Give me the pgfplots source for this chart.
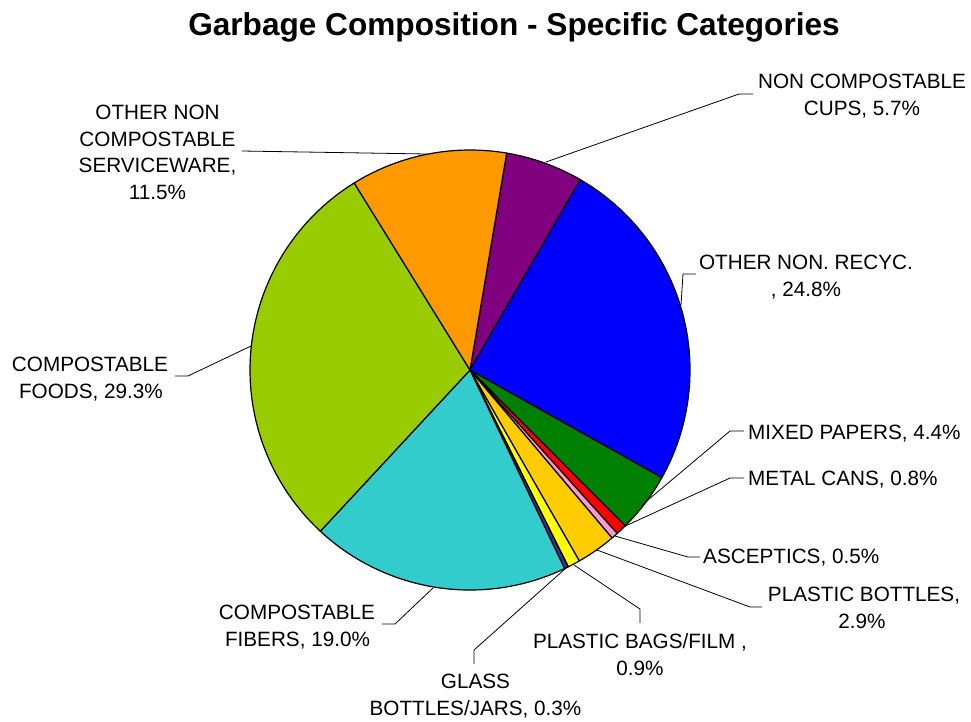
\documentclass[border=0pt]{standalone}
\usepackage{pgfplots}
\usepackage{pgfplotstable}
\pgfplotsset{compat=1.18}
\usepackage{fontspec}
\setmainfont{Liberation Sans}

% slice colours, in drawing order (clockwise from the top)
\definecolor{slice0}{HTML}{800080}
\definecolor{slice1}{HTML}{0000FF}
\definecolor{slice2}{HTML}{008000}
\definecolor{slice3}{HTML}{FF0000}
\definecolor{slice4}{HTML}{FF99CC}
\definecolor{slice5}{HTML}{FFCC00}
\definecolor{slice6}{HTML}{FFFF00}
\definecolor{slice7}{HTML}{333399}
\definecolor{slice8}{HTML}{33CCCC}
\definecolor{slice9}{HTML}{99CC00}
\definecolor{slice10}{HTML}{FF9900}

% share of each category, percent
\pgfplotstableread{
category value
NonCompostableCups 5.7
OtherNonRecyc 24.8
MixedPapers 4.4
MetalCans 0.8
Asceptics 0.5
PlasticBottles 2.9
PlasticBagsFilm 0.9
GlassBottlesJars 0.3
CompostableFibers 19.0
CompostableFoods 29.3
OtherNonCompostableServiceware 11.5
}\garbage

\newcommand\lbl{\fontsize{20.7}{26.7}\selectfont}

\begin{document}
\begin{tikzpicture}
% total of all shares, used to normalise the angles
\def\total{0}
\pgfplotsforeachungrouped \i in {0,...,10}{%
  \pgfplotstablegetelem{\i}{value}\of\garbage
  \pgfmathsetmacro\total{\total+\pgfplotsretval}%
  \xdef\total{\total}%
}
\begin{axis}[
  width=971pt, height=719pt, scale only axis,
  xmin=0, xmax=971, ymin=0, ymax=719,
  y dir=reverse,
  hide axis, clip=false,
]
\path (rel axis cs:0,0) rectangle (rel axis cs:1,1);

% pie slices, centre (470,370), radius 220
\xdef\angA{-80.4}
\pgfplotsforeachungrouped \i in {0,...,10}{%
  \pgfplotstablegetelem{\i}{value}\of\garbage
  \pgfmathsetmacro\angB{\angA+\pgfplotsretval*360/\total}%
  \edef\tmp{\noexpand\addplot[draw=black, line width=1.2pt, line join=round,
      fill=slice\i, domain=\angA:\angB, samples=90]
      ({470+220*cos(x)},{370+220*sin(x)}) -- (axis cs:470,370) -- cycle;}%
  \tmp
  \xdef\angA{\angB}%
}

% leader lines
\addplot[black, line width=0.8pt] coordinates {(546,162) (739,94) (753,94)};
\addplot[black, line width=0.8pt] coordinates {(242,151) (427,154)};
\addplot[black, line width=0.8pt] coordinates {(696,274) (683,274) (681,305)};
\addplot[black, line width=0.8pt] coordinates {(175,376) (188,376) (251,346)};
\addplot[black, line width=0.8pt] coordinates {(744,431) (730,431) (642,505)};
\addplot[black, line width=0.8pt] coordinates {(744,478) (730,478) (621,528)};
\addplot[black, line width=0.8pt] coordinates {(700,557) (688,557) (615,536)};
\addplot[black, line width=0.8pt] coordinates {(762,607) (750,607) (597,550)};
\addplot[black, line width=0.8pt] coordinates {(640,623) (640,609) (574,565)};
\addplot[black, line width=0.8pt] coordinates {(474,664) (474,650) (566,568)};
\addplot[black, line width=0.8pt] coordinates {(382,624) (395,624) (433,588)};

% title
\node[anchor=base, font=\fontsize{31.6}{36}\selectfont\bfseries] at (axis cs:514,35)
  {Garbage Composition - Specific Categories};

% data labels
\node[anchor=base, font=\lbl] at (axis cs:862,88.4) {NON COMPOSTABLE};
\node[anchor=base, font=\lbl] at (axis cs:862,115.4) {CUPS, 5.7\%};

\node[anchor=base, font=\lbl] at (axis cs:157.5,119.5) {OTHER NON};
\node[anchor=base, font=\lbl] at (axis cs:157.5,146.2) {COMPOSTABLE};
\node[anchor=base, font=\lbl] at (axis cs:157.5,172.9) {SERVICEWARE,};
\node[anchor=base, font=\lbl] at (axis cs:157.5,199.6) {11.5\%};

\node[anchor=base, font=\lbl] at (axis cs:806,269.4) {OTHER NON. RECYC.};
\node[anchor=base, font=\lbl] at (axis cs:806,296.4) {, 24.8\%};

\node[anchor=base, font=\lbl] at (axis cs:90,371.2) {COMPOSTABLE};
\node[anchor=base, font=\lbl] at (axis cs:91,398) {FOODS, 29.3\%};

\node[anchor=base west, font=\lbl, inner sep=0pt] at (axis cs:748,439) {MIXED PAPERS, 4.4\%};
\node[anchor=base west, font=\lbl, inner sep=0pt] at (axis cs:748,485.7) {METAL CANS, 0.8\%};
\node[anchor=base west, font=\lbl, inner sep=0pt] at (axis cs:703,563.6) {ASCEPTICS, 0.5\%};

\node[anchor=base, font=\lbl] at (axis cs:864,601.2) {PLASTIC BOTTLES,};
\node[anchor=base, font=\lbl] at (axis cs:862,628.2) {2.9\%};

\node[anchor=base, font=\lbl] at (axis cs:640,648) {PLASTIC BAGS/FILM ,};
\node[anchor=base, font=\lbl] at (axis cs:640,675.7) {0.9\%};

\node[anchor=base, font=\lbl] at (axis cs:475.5,688.7) {GLASS};
\node[anchor=base, font=\lbl] at (axis cs:475.5,715.4) {BOTTLES/JARS, 0.3\%};

\node[anchor=base, font=\lbl] at (axis cs:297,619) {COMPOSTABLE};
\node[anchor=base, font=\lbl] at (axis cs:297.5,646.6) {FIBERS, 19.0\%};
\end{axis}
\end{tikzpicture}
\end{document}
